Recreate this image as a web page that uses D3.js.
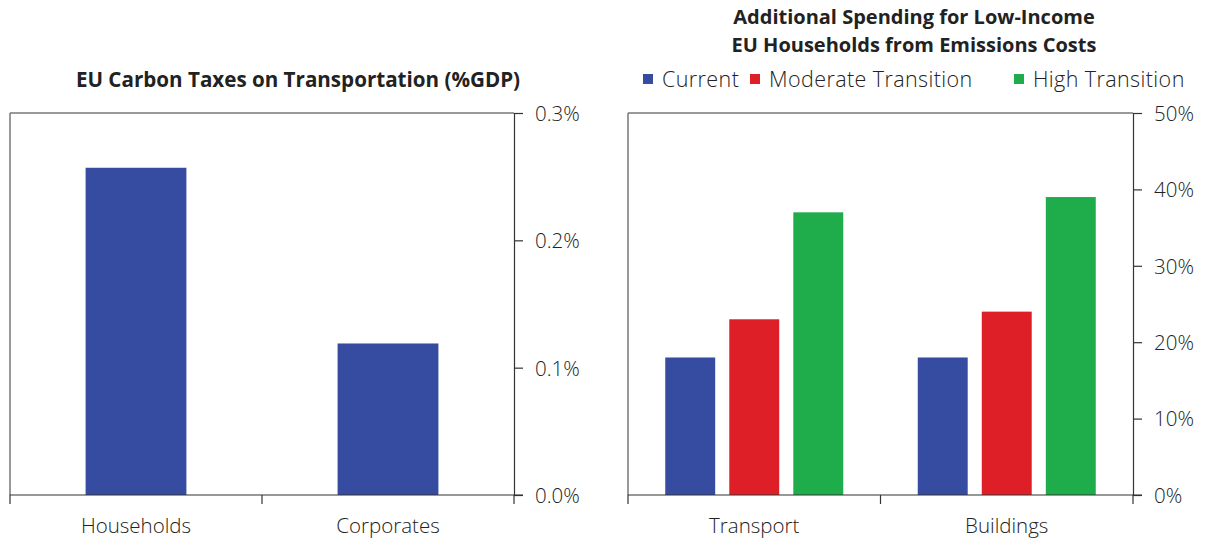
<!DOCTYPE html>
<html>
<head>
<meta charset="utf-8">
<script src="https://cdn.jsdelivr.net/npm/d3@7"></script>
<style>
  body { margin: 0; background: #fff; }
  svg { display: block; }
  .tick text { font-family: "Open Sans", sans-serif; font-weight: 300; fill: #222; }
  .title { font-family: "Open Sans", sans-serif; font-weight: 700; fill: #222; }
  .legend { font-family: "Open Sans", sans-serif; font-weight: 300; fill: #222; }
</style>
</head>
<body>
<svg id="chart" width="1205" height="543"></svg>
<script>
// Left panel: carbon taxes on transportation (% of GDP)
const taxCategories = ["Households", "Corporates"];
const taxValues = [0.257, 0.119];
const taxTicks = [0, 0.1, 0.2, 0.3];

// Right panel: additional spending for low-income households (%)
const spendCategories = ["Transport", "Buildings"];
const seriesNames = ["Current", "Moderate Transition", "High Transition"];
const currentValues = [18, 18];
const moderateValues = [23, 24];
const highValues = [37, 39];
const spendTicks = [0, 10, 20, 30, 40, 50];

const colors = ["#364ca0", "#de1f27", "#1fac4b"];

const svg = d3.select("#chart");
const plotTop = 113, plotBottom = 495;

function frame(g, x0, x1, yScale, ticks, fmt, xScale) {
  // grey outline: top edge and left edge
  g.append("line").attr("x1", x0).attr("x2", x1).attr("y1", plotTop).attr("y2", plotTop)
    .attr("stroke", "#777").attr("stroke-width", 1.3);
  g.append("line").attr("x1", x0).attr("x2", x0).attr("y1", plotTop).attr("y2", plotBottom)
    .attr("stroke", "#777").attr("stroke-width", 1.5);

  const yAxis = d3.axisRight(yScale).tickValues(ticks).tickFormat(fmt).tickSize(9).tickPadding(12);
  const ya = g.append("g").attr("transform", `translate(${x1},0)`).call(yAxis);
  ya.select(".domain").attr("stroke", "#333").attr("stroke-width", 1.2);
  ya.selectAll(".tick line").attr("stroke", "#333").attr("stroke-width", 1.2);
  ya.selectAll(".tick text").attr("font-size", 20.5).attr("dy", "0.36em");

  const xAxis = d3.axisBottom(xScale).tickSize(0).tickPadding(23);
  const xa = g.append("g").attr("transform", `translate(0,${plotBottom})`).call(xAxis);
  xa.select(".domain").remove();
  xa.selectAll(".tick text").attr("font-size", 20.5);
  const bounds = [x0, ...xScale.domain().slice(1).map(d => xScale(d) - xScale.step() * xScale.paddingInner() / 2), x1];
  g.append("line").attr("x1", x0).attr("x2", x1 + 9).attr("y1", plotBottom).attr("y2", plotBottom)
    .attr("stroke", "#333").attr("stroke-width", 1.2);
  g.selectAll(".xt").data(bounds).join("line")
    .attr("x1", d => d).attr("x2", d => d).attr("y1", plotBottom).attr("y2", plotBottom + 9)
    .attr("stroke", "#333").attr("stroke-width", 1.2);
}

// ---- Left panel ----
{
  const x0 = 10, x1 = 514;
  const g = svg.append("g");
  const x = d3.scaleBand().domain(taxCategories).range([x0, x1]).paddingInner(0.6).paddingOuter(0.3);
  const y = d3.scaleLinear().domain([0, 0.3]).range([plotBottom, plotTop]);
  g.selectAll("rect").data(taxValues).join("rect")
    .attr("x", (d, i) => x(taxCategories[i]))
    .attr("width", x.bandwidth())
    .attr("y", d => y(d))
    .attr("height", d => plotBottom - y(d))
    .attr("fill", colors[0]);
  frame(g, x0, x1, y, taxTicks, d => d.toFixed(1) + "%", x);
  g.append("text").attr("class", "title").attr("x", 298).attr("y", 87)
    .attr("text-anchor", "middle").attr("font-size", 20.6)
    .text("EU Carbon Taxes on Transportation (%GDP)");
}

// ---- Right panel ----
{
  const x0 = 628, x1 = 1133;
  const g = svg.append("g");
  const x = d3.scaleBand().domain(spendCategories).range([x0, x1]).paddingInner(0).paddingOuter(0);
  const xs = d3.scaleBand().domain(seriesNames).range([0, 178]).paddingInner(0.22);
  const y = d3.scaleLinear().domain([0, 50]).range([plotBottom, plotTop]);
  const series = [currentValues, moderateValues, highValues];
  seriesNames.forEach((name, si) => {
    g.selectAll(null).data(series[si]).join("rect")
      .attr("x", (d, i) => x(spendCategories[i]) + x.bandwidth() / 2 - 89 + xs(name))
      .attr("width", xs.bandwidth())
      .attr("y", d => y(d))
      .attr("height", d => plotBottom - y(d))
      .attr("fill", colors[si]);
  });
  frame(g, x0, x1, y, spendTicks, d => d + "%", x);

  const t = g.append("text").attr("class", "title").attr("text-anchor", "middle").attr("font-size", 20);
  t.append("tspan").attr("x", 914).attr("y", 24).text("Additional Spending for Low-Income");
  t.append("tspan").attr("x", 914).attr("y", 52).text("EU Households from Emissions Costs");

  // legend
  const legendX = [643, 750, 1014];
  const lg = g.selectAll(".lg").data(seriesNames).join("g").attr("transform", (d, i) => `translate(${legendX[i]},74)`);
  lg.append("rect").attr("width", 10).attr("height", 10).attr("fill", (d, i) => colors[i]);
  lg.append("text").attr("class", "legend").attr("x", 19).attr("y", 5).attr("dy", "0.36em")
    .attr("font-size", 21.5).attr("letter-spacing", 0.4).text(d => d);
}
</script>
</body>
</html>
